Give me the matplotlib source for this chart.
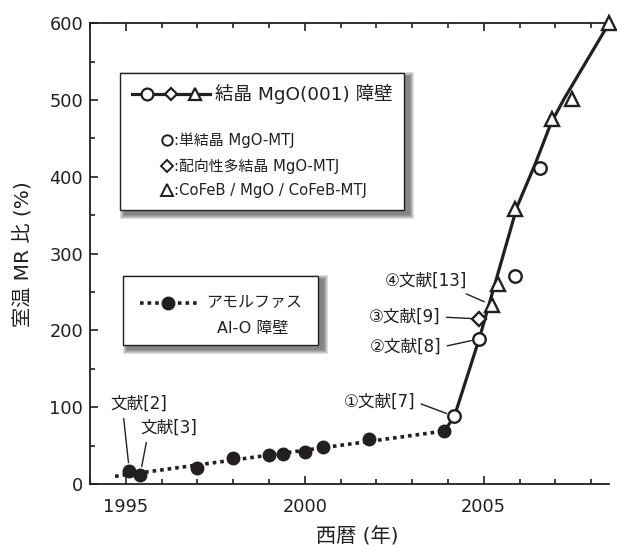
import matplotlib
matplotlib.use('Agg')
import matplotlib.pyplot as plt
from matplotlib.lines import Line2D
from matplotlib.patches import Rectangle
from matplotlib.ticker import MultipleLocator

plt.rcParams['font.family'] = ['DejaVu Sans', 'Noto Sans CJK JP']
INK = '#231f20'

# アモルファス Al-O 障壁
amo_year = [1995.1, 1995.4, 1997.0, 1998.0, 1999.0, 1999.4, 2000.0, 2000.5, 2001.8, 2003.9]
amo_mr = [17, 12, 21, 34, 38, 39, 42, 48, 59, 69]
amo_fit_year = [1994.7, 2003.9]
amo_fit_mr = [10, 69]

# 結晶 MgO(001) 障壁
circ_year = [2004.18, 2004.88, 2005.88, 2006.58]
circ_mr = [88, 189, 271, 411]
dia_year = [2004.88]
dia_mr = [215]
tri_year = [2005.23, 2005.4, 2005.88, 2006.9, 2007.47, 2008.5]
tri_mr = [233, 261, 358, 476, 502, 600]
mgo_fit_year = [2003.9, 2004.18, 2004.88, 2005.93, 2006.44, 2006.88, 2007.25, 2008.5]
mgo_fit_mr = [69, 88, 190, 361, 417, 470, 502, 600]

W, H = 617, 545
def fx(x):
    return x / W
def fy(y):
    return 1 - y / H

fig = plt.figure(figsize=(W / 100, H / 100), dpi=100)
ax = fig.add_axes([fx(90), fy(484), (609 - 90) / W, (484 - 23.3) / H])

ax.plot(amo_fit_year, amo_fit_mr, color=INK, lw=2.6, linestyle=(0, (1, 1.1)),
        dash_capstyle='butt', zorder=2)
ax.plot(amo_year, amo_mr, 'o', color=INK, ms=9, zorder=4)
ax.plot(mgo_fit_year, mgo_fit_mr, color=INK, lw=2.3, zorder=3)
mk = dict(mfc='white', mec=INK, mew=1.7, ls='none', zorder=5, clip_on=False)
ax.plot(circ_year, circ_mr, 'o', ms=9, **mk)
ax.plot(dia_year, dia_mr, 'D', ms=7, **mk)
ax.plot(tri_year, tri_mr, '^', ms=10, **mk)

ax.set_xlim(1994, 2008.5)
ax.set_ylim(0, 600)
ax.xaxis.set_major_locator(MultipleLocator(5))
ax.xaxis.set_minor_locator(MultipleLocator(1))
ax.yaxis.set_major_locator(MultipleLocator(100))
ax.yaxis.set_minor_locator(MultipleLocator(50))
ax.spines['right'].set_visible(False)
for s in ['left', 'bottom', 'top']:
    ax.spines[s].set_linewidth(1.3)
    ax.spines[s].set_color(INK)
ax.tick_params(which='both', direction='in', top=True, right=False,
               color=INK, width=1.2, labelcolor=INK, labelsize=12.8)
ax.tick_params(which='major', length=6)
ax.tick_params(which='minor', length=3.5)
ax.tick_params(axis='x', pad=10)
ax.tick_params(axis='y', pad=5)
ax.set_xlabel('西暦 (年)', fontsize=14.5, color=INK, labelpad=8, x=0.515)
ax.set_ylabel('室温 MR 比 (%)', fontsize=14.5, color=INK, labelpad=11)

# 文献の注記
notes = [
    ('文献[2]', (139, 404), amo_year[0], amo_mr[0], (0.22, 0)),
    ('文献[3]', (169, 428), amo_year[1], amo_mr[1], (0.12, 0)),
    ('①文献[7]', (380, 402), circ_year[0], circ_mr[0], (1, 0.5)),
    ('④文献[13]', (426, 281), tri_year[0], tri_mr[0], (0.88, 0)),
    ('③文献[9]', (405, 317), dia_year[0], dia_mr[0], (1, 0.5)),
    ('②文献[8]', (406, 347), circ_year[1], circ_mr[1], (1, 0.5)),
]
for txt, (tx, ty), x, y, rp in notes:
    ax.annotate(txt, xy=(x, y), xytext=(tx, H - ty), textcoords='figure pixels',
                ha='center', va='center', fontsize=12, color=INK,
                family=['DejaVu Sans', 'Noto Sans CJK JP'],
                arrowprops=dict(arrowstyle='-', color=INK, lw=1.0,
                                relpos=rp, shrinkA=2, shrinkB=6))


def legend_box(x0, y0, x1, y1):
    for k in range(5, 0, -1):
        fig.add_artist(Rectangle((fx(x0 + 5 - k), fy(y1 + 4 + k)),
                                 (x1 - x0 + 2 * k) / W, (y1 - y0 + 2 * k) / H,
                                 transform=fig.transFigure, facecolor='black',
                                 edgecolor='none', alpha=0.12, zorder=5))
    fig.add_artist(Rectangle((fx(x0), fy(y1)), (x1 - x0) / W, (y1 - y0) / H,
                             transform=fig.transFigure, facecolor='white',
                             edgecolor=INK, lw=1.0, zorder=6))


def fig_line(xs, ys, **kw):
    fig.add_artist(Line2D([fx(v) for v in xs], [fy(v) for v in ys],
                          transform=fig.transFigure, color=INK, zorder=7, **kw))


# 凡例1
legend_box(120, 73, 404, 210)
fig_line([132, 210], [94, 94], lw=2.3)
fig_line([146.7], [94], marker='o', ms=8.5, mfc='white', mec=INK, mew=1.6, ls='none')
fig_line([170.7], [94], marker='D', ms=6.5, mfc='white', mec=INK, mew=1.6, ls='none')
fig_line([195], [94], marker='^', ms=9, mfc='white', mec=INK, mew=1.6, ls='none')
fig.text(fx(215), fy(94), '結晶 MgO(001) 障壁', fontsize=13.3, color=INK, va='center', zorder=8)
sub = [('o', 7.5, ':単結晶 MgO-MTJ', 140),
       ('D', 6, ':配向性多結晶 MgO-MTJ', 166),
       ('^', 8.5, ':CoFeB / MgO / CoFeB-MTJ', 190)]
for m, s, t, y in sub:
    fig_line([167], [y], marker=m, ms=s, mfc='white', mec=INK, mew=1.4, ls='none')
    fig.text(fx(174), fy(y), t, fontsize=10.7, color=INK, va='center', zorder=8)

# 凡例2
legend_box(123, 276, 318, 345)
fig_line([140, 197], [303, 303], lw=2.6, linestyle=(0, (1, 1.1)), dash_capstyle='butt')
fig_line([168], [303], marker='o', ms=9, ls='none')
fig.text(fx(206), fy(303), 'アモルファス', fontsize=11.5, color=INK, va='center', zorder=8)
fig.text(fx(253), fy(328), 'Al-O 障壁', fontsize=11.5, color=INK, va='center', ha='center', zorder=8)

fig.savefig('out.png', dpi=100)
